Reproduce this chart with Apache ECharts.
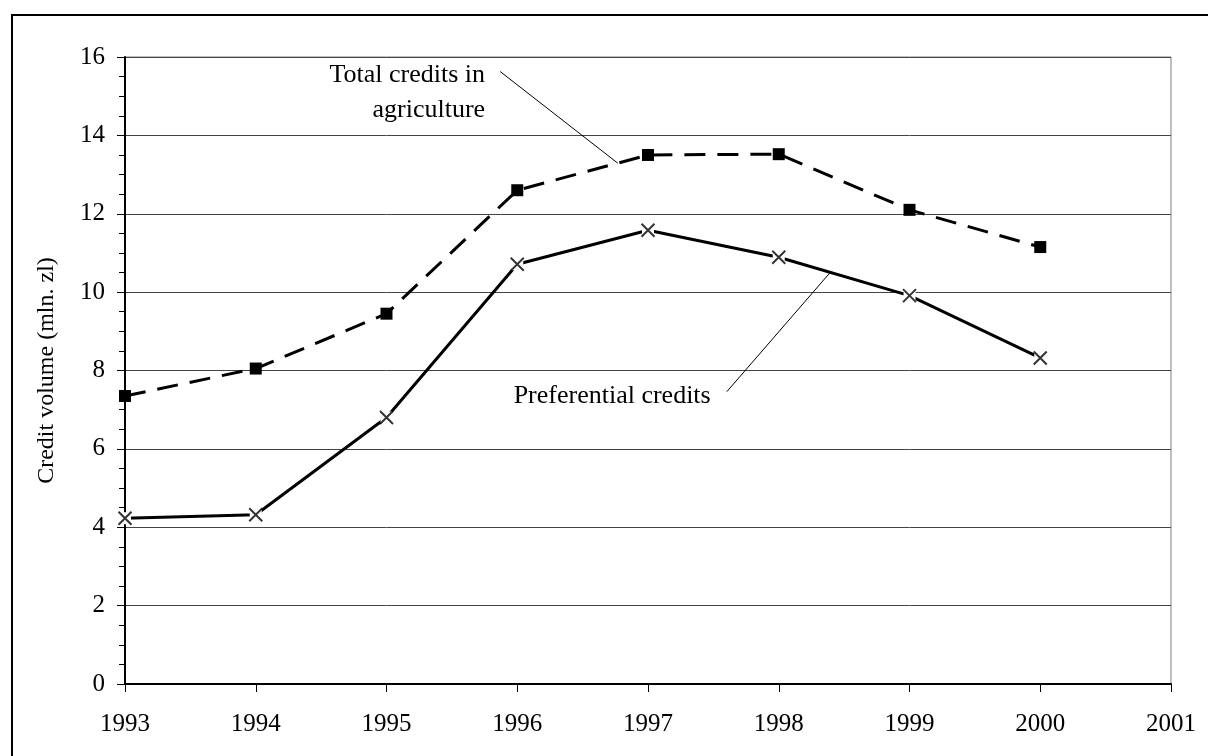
<!DOCTYPE html>
<html>
<head>
<meta charset="utf-8">
<script src="https://cdn.jsdelivr.net/npm/echarts@6/dist/echarts.min.js"></script>
<style>
html,body{margin:0;padding:0;background:#fff;}
#chart{width:1208px;height:756px;}
</style>
</head>
<body>
<div id="chart"></div>
<script>
var years = [1993, 1994, 1995, 1996, 1997, 1998, 1999, 2000];
var totalCredits = [7.35, 8.05, 9.45, 12.6, 13.5, 13.52, 12.1, 11.15];
var preferentialCredits = [4.23, 4.32, 6.8, 10.71, 11.58, 10.89, 9.91, 8.32];
var yTicks = [0, 2, 4, 6, 8, 10, 12, 14, 16];
var xTicks = [1993, 1994, 1995, 1996, 1997, 1998, 1999, 2000, 2001];

var totalLabel = 'Total credits in\nagriculture';
var totalLabelAnchor = [1995.754, 15.10];
var totalLeader = [[1995.869, 15.63], [1996.769, 13.29]];
var prefLabel = 'Preferential credits';
var prefLabelAnchor = [1996.726, 7.35];
var prefLeader = [[1997.603, 7.46], [1998.393, 10.50]];

var FONT = "'Liberation Serif', 'Times New Roman', serif";

function pairs(xs, ys) { return xs.map(function (x, i) { return [x, ys[i]]; }); }

var chart = echarts.init(document.getElementById('chart'), null, {renderer: 'canvas'});
var option = {
  animation: false,
  backgroundColor: '#fff',
  grid: {left: 125, right: 37, top: 57, bottom: 72, show: true, borderColor: '#808080', borderWidth: 1, backgroundColor: 'transparent'},
  xAxis: {
    type: 'value', min: xTicks[0], max: xTicks[xTicks.length - 1], interval: 1,
    axisLine: {show: true, lineStyle: {color: '#000', width: 2}},
    axisTick: {show: true, inside: false, length: 8, lineStyle: {color: '#000', width: 1}},
    splitLine: {show: false},
    axisLabel: {color: '#000', fontFamily: FONT, fontSize: 25, margin: 28, formatter: function (v) { return String(v); }}
  },
  yAxis: {
    type: 'value', min: yTicks[0], max: yTicks[yTicks.length - 1], interval: 2,
    name: 'Credit volume (mln. zl)', nameLocation: 'middle', nameGap: 66, nameRotate: 90,
    nameTextStyle: {color: '#000', fontFamily: FONT, fontSize: 24},
    axisLine: {show: true, lineStyle: {color: '#000', width: 2}},
    axisTick: {show: true, inside: false, length: 8, lineStyle: {color: '#000', width: 1}},
    minorTick: {show: true, splitNumber: 4, length: 6, lineStyle: {color: '#000', width: 1}},
    splitLine: {show: true, lineStyle: {color: '#444', width: 1}},
    axisLabel: {color: '#000', fontFamily: FONT, fontSize: 25, margin: 20}
  },
  series: [
    {
      name: 'Total credits in agriculture', type: 'line', data: pairs(years, totalCredits),
      symbol: 'rect', symbolSize: 12, showAllSymbol: true,
      itemStyle: {color: '#000', borderWidth: 0},
      lineStyle: {color: '#000', width: 3, type: [21, 12]}, z: 3
    },
    {
      name: 'Preferential credits', type: 'line', data: pairs(years, preferentialCredits),
      symbol: 'rect', symbolSize: 12, showAllSymbol: true,
      itemStyle: {color: '#fff', borderWidth: 0},
      lineStyle: {color: '#000', width: 3, type: 'solid'}, z: 3
    },
    {
      name: 'Preferential markers', type: 'scatter', data: pairs(years, preferentialCredits),
      symbol: 'path://M0,0L10,10M10,0L0,10', symbolSize: 13,
      itemStyle: {color: 'none', borderColor: '#000', borderWidth: 2}, z: 4, silent: true
    }
  ]
};
chart.setOption(option);

function px(p) { return chart.convertToPixel({gridIndex: 0}, p); }
var tl0 = px(totalLeader[0]), tl1 = px(totalLeader[1]);
var pl0 = px(prefLeader[0]), pl1 = px(prefLeader[1]);
var ta = px(totalLabelAnchor), pa = px(prefLabelAnchor);

chart.setOption({
  graphic: [
    {type: 'rect', shape: {x: 12, y: 15, width: 1400, height: 1000}, style: {fill: 'none', stroke: '#000', lineWidth: 2}, z: 10, silent: true},
    {type: 'line', shape: {x1: tl0[0], y1: tl0[1], x2: tl1[0], y2: tl1[1]}, style: {stroke: '#000', lineWidth: 1}, z: 10},
    {type: 'line', shape: {x1: pl0[0], y1: pl0[1], x2: pl1[0], y2: pl1[1]}, style: {stroke: '#000', lineWidth: 1}, z: 10},
    {type: 'text', x: ta[0], y: ta[1], style: {text: totalLabel, fill: '#000', font: '26px ' + FONT, align: 'right', verticalAlign: 'middle', lineHeight: 35}, z: 10},
    {type: 'text', x: pa[0], y: pa[1], style: {text: prefLabel, fill: '#000', font: '26px ' + FONT, align: 'center', verticalAlign: 'middle'}, z: 10}
  ]
});
</script>
</body>
</html>
